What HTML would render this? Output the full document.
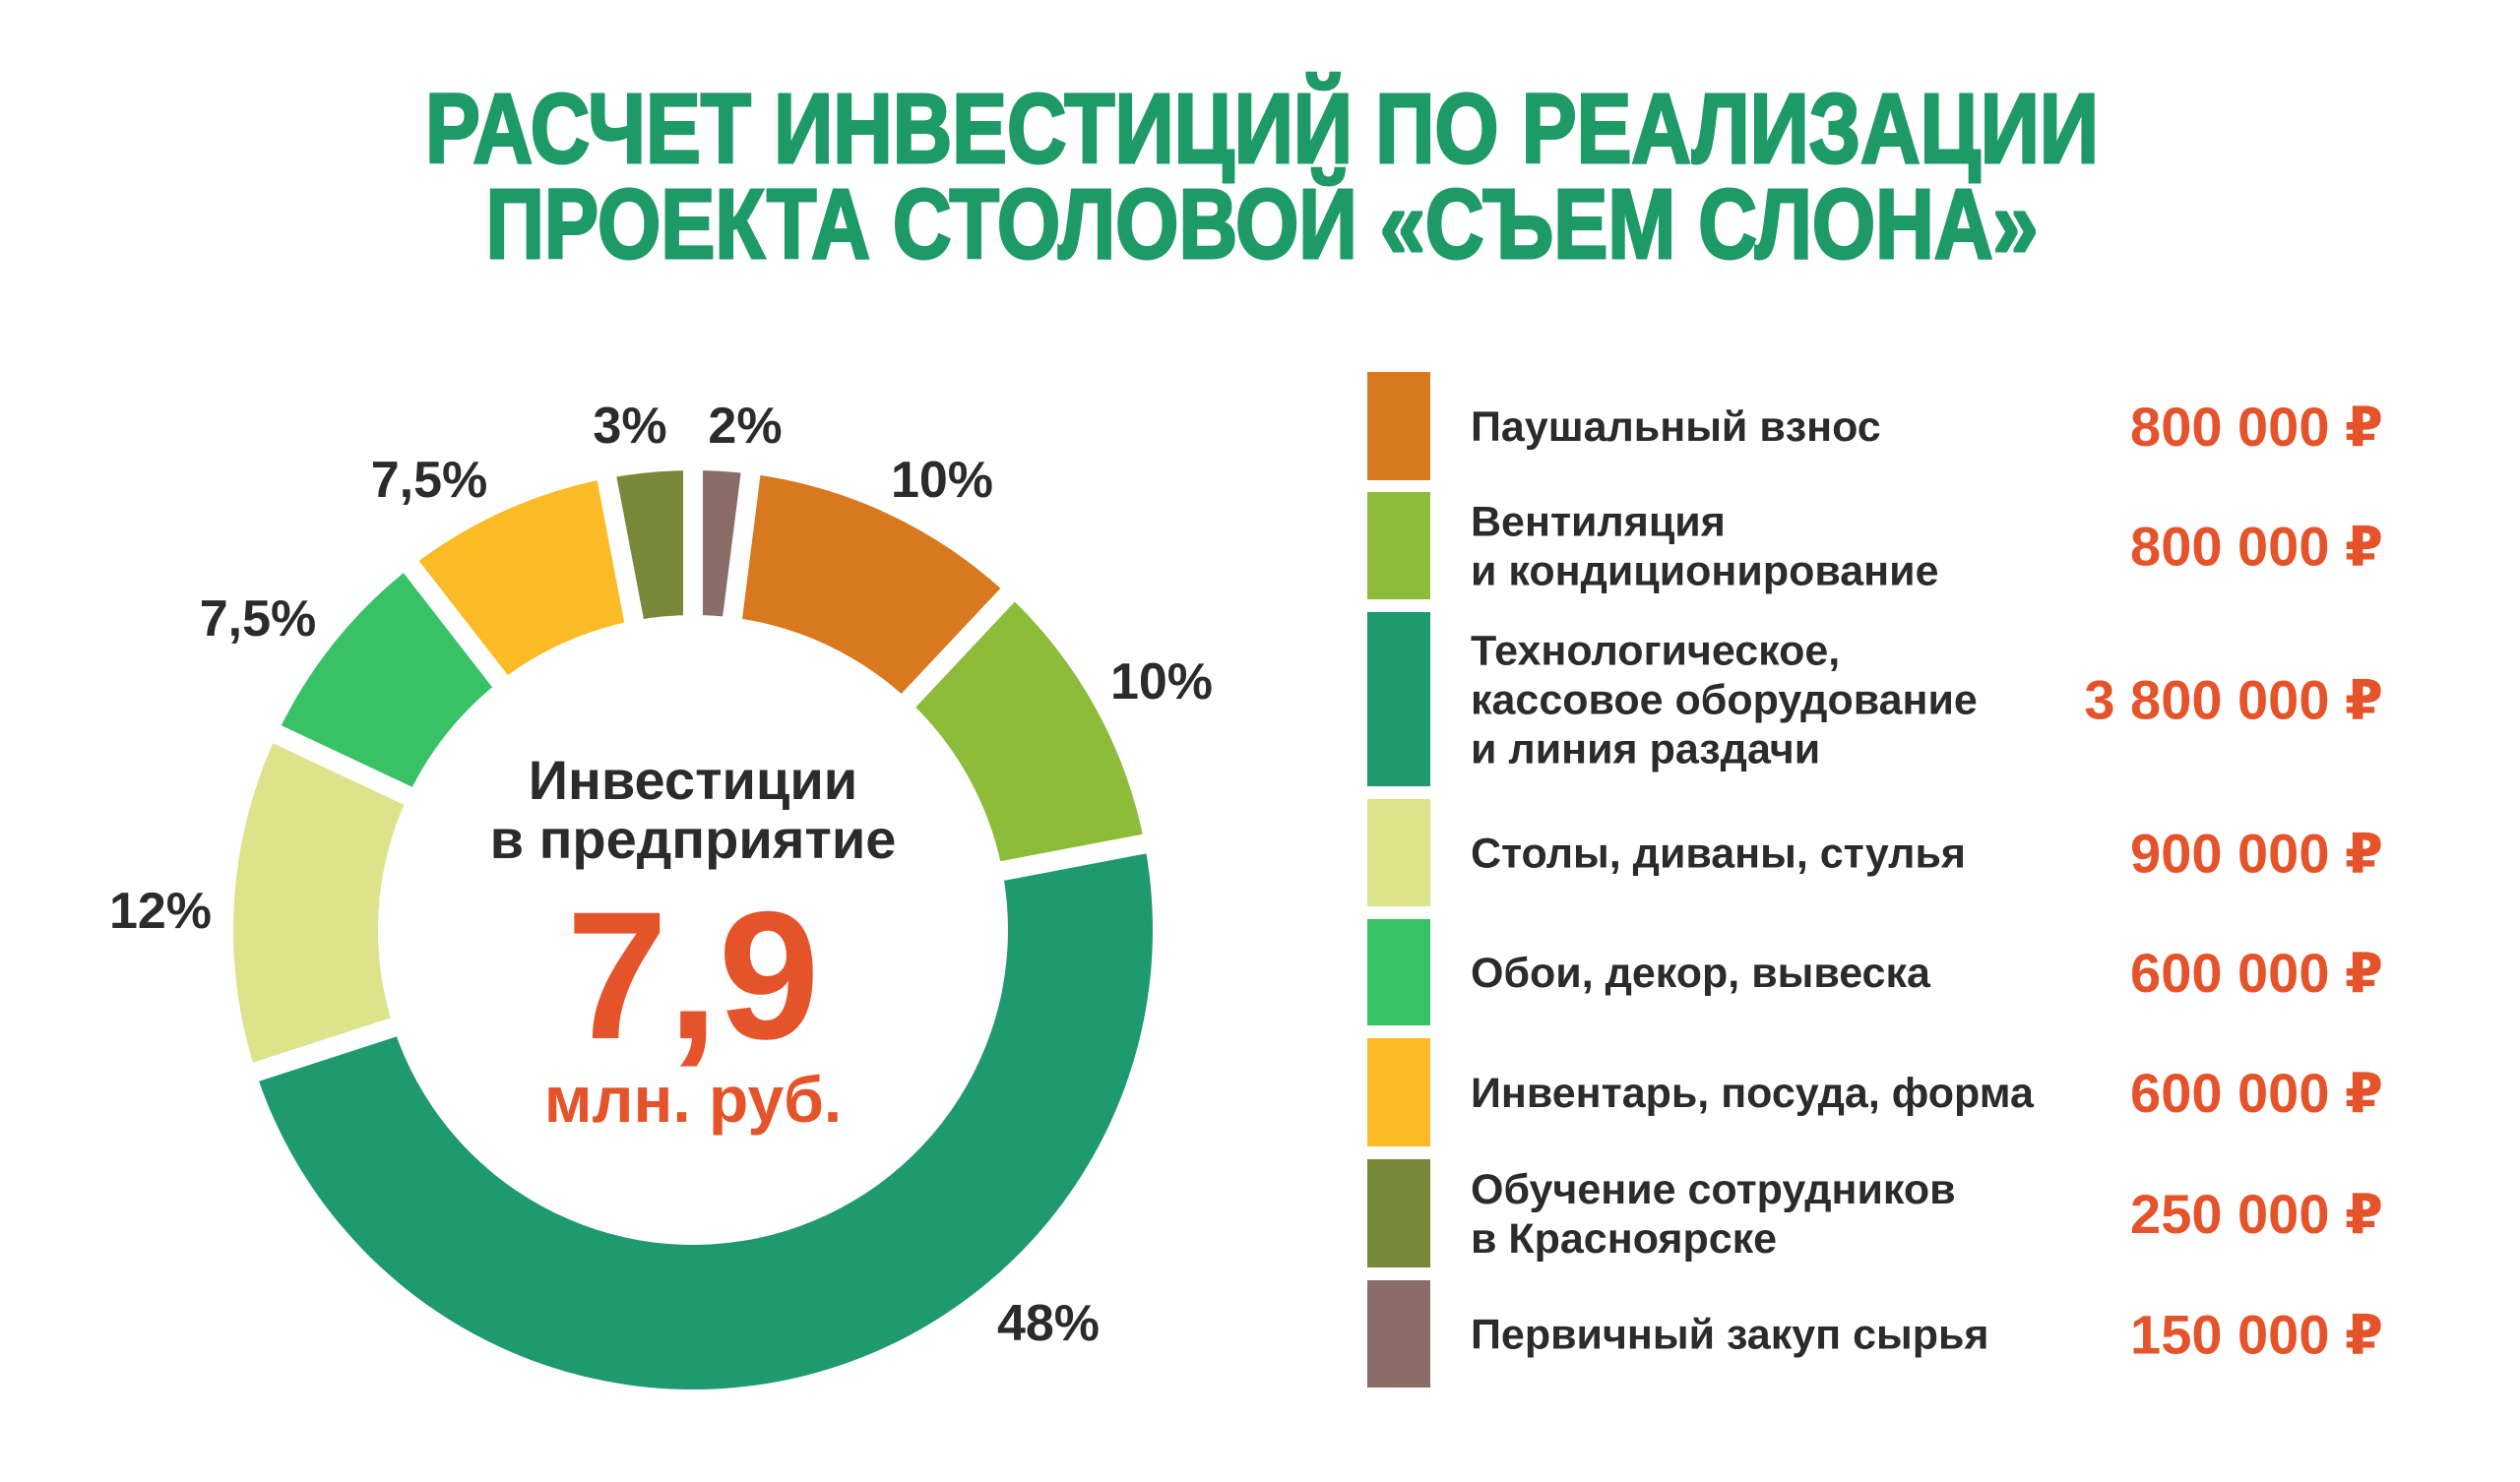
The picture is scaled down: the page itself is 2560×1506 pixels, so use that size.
<!DOCTYPE html>
<html><head><meta charset="utf-8">
<style>
html,body{margin:0;padding:0;background:#fff;}
svg{display:block;}
text{font-family:"Liberation Sans","DejaVu Sans",sans-serif;}
</style></head>
<body>
<svg id="chart" width="2560" height="1506" viewBox="0 0 2560 1506" xmlns="http://www.w3.org/2000/svg">
  <rect width="2560" height="1506" fill="#ffffff"/>
  <text x="1282" y="165" text-anchor="middle" font-size="100" font-weight="bold" fill="#1e9a66" stroke="#1e9a66" stroke-width="3" textLength="1700" lengthAdjust="spacingAndGlyphs">РАСЧЕТ ИНВЕСТИЦИЙ ПО РЕАЛИЗАЦИИ</text>
  <text x="1282" y="262" text-anchor="middle" font-size="100" font-weight="bold" fill="#1e9a66" stroke="#1e9a66" stroke-width="3" textLength="1577" lengthAdjust="spacingAndGlyphs">ПРОЕКТА СТОЛОВОЙ «СЪЕМ СЛОНА»</text>
  <g id="donut"></g>
  <g id="labels"></g>
  <text x="704" y="812" text-anchor="middle" font-size="56" font-weight="bold" fill="#2b2b2b">Инвестиции</text>
  <text x="704" y="872" text-anchor="middle" font-size="56" font-weight="bold" fill="#2b2b2b">в предприятие</text>
  <text x="704" y="1055" text-anchor="middle" font-size="185" font-weight="bold" fill="#e5532a">7,9</text>
  <text x="704" y="1140" text-anchor="middle" font-size="66" font-weight="bold" fill="#e5532a">млн. руб.</text>
  <g id="legend"></g>
</svg>
<script>
const categories = ["Паушальный взнос","Вентиляция и кондиционирование","Технологическое, кассовое оборудование и линия раздачи","Столы, диваны, стулья","Обои, декор, вывеска","Инвентарь, посуда, форма","Обучение сотрудников в Красноярске","Первичный закуп сырья"];
const legendLines = [["Паушальный взнос"],["Вентиляция","и кондиционирование"],["Технологическое,","кассовое оборудование","и линия раздачи"],["Столы, диваны, стулья"],["Обои, декор, вывеска"],["Инвентарь, посуда, форма"],["Обучение сотрудников","в Красноярске"],["Первичный закуп сырья"]];
const amounts = ["800 000 ₽","800 000 ₽","3 800 000 ₽","900 000 ₽","600 000 ₽","600 000 ₽","250 000 ₽","150 000 ₽"];
const colors = ["#d9791f","#8dbb3a","#1f9a6e","#dde38b","#38c265","#fbbb26","#788a3a","#8a6d68"];
const sliceOrder = [7,0,1,2,3,4,5,6];
const percents = [10,10,48,12,7.5,7.5,3,2];
const percentLabels = ["10%","10%","48%","12%","7,5%","7,5%","3%","2%"];
const labelPos = [[957,505],[1180,710],[1065,1362],[163,943],[262,646],[436,505],[640,450],[757,450]];

const NS="http://www.w3.org/2000/svg";
const cx=704, cy=945, R=467, r=320, GAP=20;
function pt(rad,a){return [cx+rad*Math.sin(a), cy-rad*Math.cos(a)];}
function ang(p){return p/100*2*Math.PI;}
const donut=document.getElementById('donut');
let acc=0;
const boundaries=[];
sliceOrder.forEach(ci=>{
  const a0=ang(acc), a1=ang(acc+percents[ci]);
  acc+=percents[ci];
  boundaries.push(a0);
  const large=(a1-a0)>Math.PI?1:0;
  const p1=pt(R,a0),p2=pt(R,a1),p3=pt(r,a1),p4=pt(r,a0);
  const d=`M${p1[0]},${p1[1]} A${R},${R} 0 ${large} 1 ${p2[0]},${p2[1]} L${p3[0]},${p3[1]} A${r},${r} 0 ${large} 0 ${p4[0]},${p4[1]} Z`;
  const path=document.createElementNS(NS,'path');
  path.setAttribute('d',d);
  path.setAttribute('fill',colors[ci]);
  
  
  donut.appendChild(path);
});
boundaries.forEach(a=>{
  const p0=pt(r-10,a),p1=pt(R+10,a);
  const ln=document.createElementNS(NS,'line');
  ln.setAttribute('x1',p0[0]);ln.setAttribute('y1',p0[1]);
  ln.setAttribute('x2',p1[0]);ln.setAttribute('y2',p1[1]);
  ln.setAttribute('stroke','#ffffff');ln.setAttribute('stroke-width',GAP);
  
  
  donut.appendChild(ln);
});
const labels=document.getElementById('labels');
percentLabels.forEach((t,i)=>{
  const tx=document.createElementNS(NS,'text');
  tx.setAttribute('x',labelPos[i][0]);tx.setAttribute('y',labelPos[i][1]);
  tx.setAttribute('text-anchor','middle');
  tx.setAttribute('font-size','52');tx.setAttribute('font-weight','bold');
  tx.setAttribute('fill','#2b2b2b');
  tx.textContent=t;
  
  
  labels.appendChild(tx);
});
const legend=document.getElementById('legend');
const rowTops=[378,500,622,812,934,1055,1178,1301];
const rowBottoms=[488,609,799,921,1042,1165,1288,1410];
categories.forEach((c,i)=>{
  const g=document.createElementNS(NS,'g');
  
  
  const top=rowTops[i], h=rowBottoms[i]-top, mid=top+h/2;
  const rc=document.createElementNS(NS,'rect');
  rc.setAttribute('x',1389);rc.setAttribute('y',top);rc.setAttribute('width',64);rc.setAttribute('height',h);
  rc.setAttribute('fill',colors[i]);
  
  
  g.appendChild(rc);
  const lines=legendLines[i], lh=50;
  lines.forEach((ln,j)=>{
    const t=document.createElementNS(NS,'text');
    t.setAttribute('x',1494);
    t.setAttribute('y',mid+15+(j-(lines.length-1)/2)*lh);
    t.setAttribute('font-size','43');t.setAttribute('font-weight','bold');
    t.setAttribute('fill','#2b2b2b');
    t.textContent=ln;
    
    
    g.appendChild(t);
  });
  const v=document.createElementNS(NS,'text');
  v.setAttribute('x',2421);v.setAttribute('y',mid+20);
  v.setAttribute('text-anchor','end');
  v.setAttribute('font-size','56');v.setAttribute('font-weight','bold');
  v.setAttribute('fill','#e5532a');
  v.textContent=amounts[i];
  
  
  g.appendChild(v);
  legend.appendChild(g);
});
</script>
</body></html>
